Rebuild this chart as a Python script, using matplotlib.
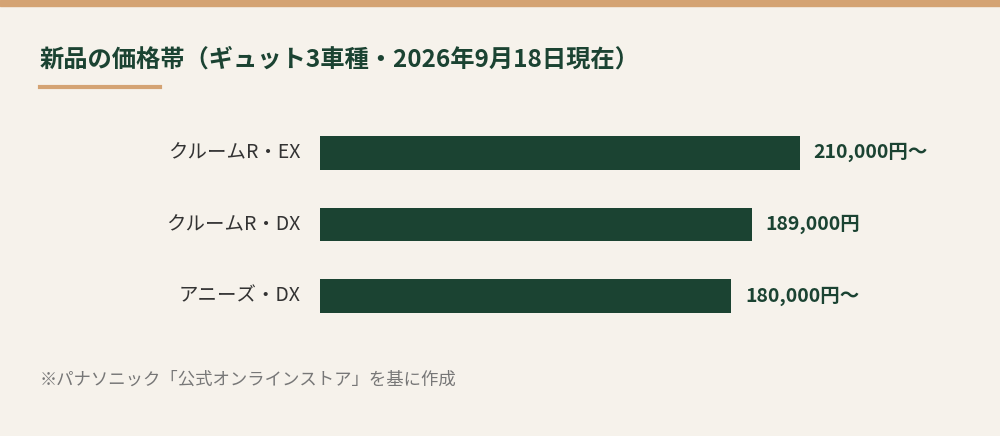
import matplotlib.pyplot as plt
from matplotlib.patches import Rectangle
from matplotlib.lines import Line2D

plt.rcParams['font.family'] = ['Noto Sans CJK JP', 'DejaVu Sans']

models = ['クルームR・EX', 'クルームR・DX', 'アニーズ・DX']
prices = [210000, 189000, 180000]
labels = ['210,000円〜', '189,000円', '180,000円〜']

bg = '#f6f2eb'
green = '#1b4332'
tan = '#d4a373'

fig = plt.figure(figsize=(10, 4.36), dpi=100, facecolor=bg)
fig.patches.append(Rectangle((0, 1 - 6 / 436), 1, 6 / 436, transform=fig.transFigure,
                             color=tan, zorder=5))
fig.text(0.04, 1 - 60 / 436, '新品の価格帯（ギュット3車種・2026年9月18日現在）',
         fontsize=17.5, fontweight='bold', color=green, va='center')
fig.lines.append(Line2D([0.04, 0.16], [1 - 87 / 436] * 2, transform=fig.transFigure,
                        color=tan, linewidth=3))
fig.text(0.04, 1 - 380 / 436, '※パナソニック「公式オンラインストア」を基に作成',
         fontsize=12.5, color='#777777', va='center')

ax = fig.add_axes([0.32, 1 - 332 / 436, 0.6, 215 / 436])
ax.set_facecolor(bg)
y = range(len(models))
ax.barh(y, prices, height=0.47, color=green)
ax.set_xlim(0, 262500)
ax.set_ylim(2.5, -0.5)
for i, (p, t) in enumerate(zip(prices, labels)):
    ax.text(p + 6000, i, t, va='center', ha='left', fontsize=14, fontweight='bold', color=green)
    ax.text(-8500, i, models[i], va='center', ha='right', fontsize=14, color='#333333')
ax.set_xticks([])
ax.set_yticks([])
for s in ax.spines.values():
    s.set_visible(False)

fig.savefig('out.png', facecolor=bg)
